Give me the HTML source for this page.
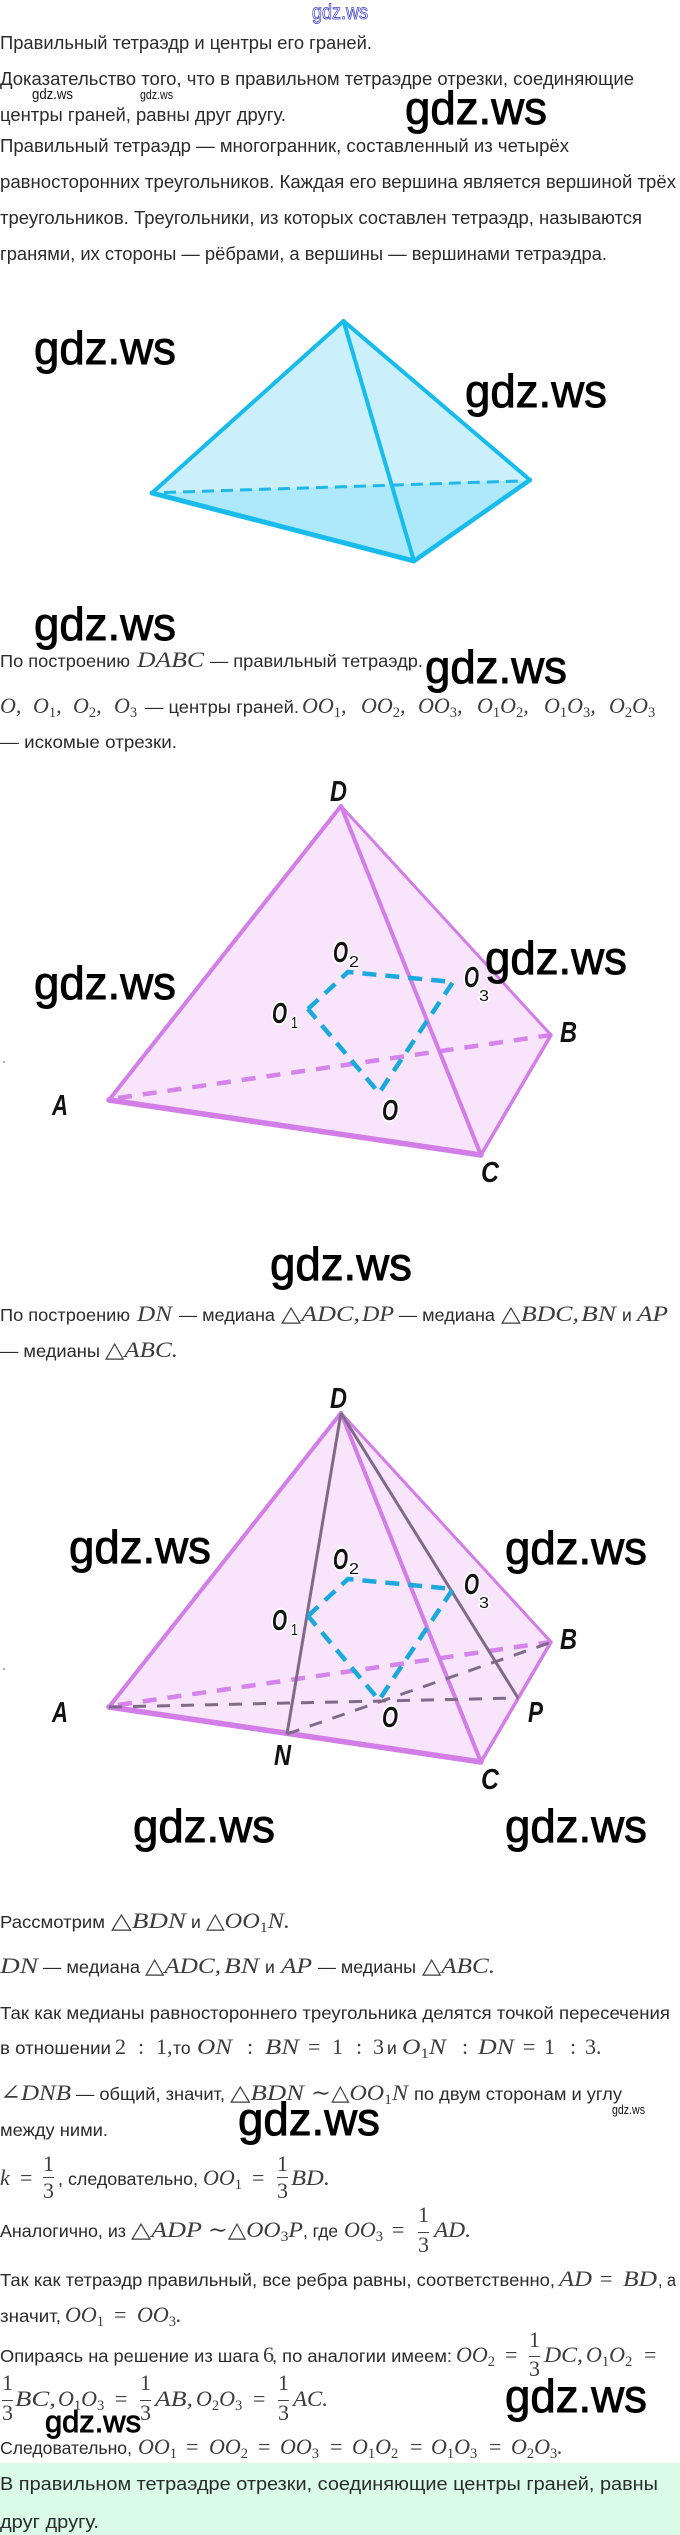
<!DOCTYPE html>
<html lang="ru">
<head>
<meta charset="utf-8">
<title>Правильный тетраэдр</title>
<style>
html,body{margin:0;padding:0;background:#fff}
svg{display:block}
text{font-family:"Liberation Sans","DejaVu Sans",sans-serif;white-space:pre}
.a{font-size:18px;fill:#2b2b2b}
.t{font-size:17.5px;fill:#2b2b2b}
.m{font-family:"Liberation Serif","DejaVu Serif",serif;font-style:italic;font-size:22px;fill:#3d3d3d}
.r{font-family:"Liberation Serif","DejaVu Serif",serif;font-size:22px;fill:#3d3d3d}
.b{font-size:14.5px;font-style:normal}
.w{font-size:46px;fill:#000;stroke:#000;stroke-width:.9}
.s{fill:#111}
.l{font-size:29px;font-style:italic;font-weight:bold;fill:#111;stroke:#fff;stroke-width:4px;paint-order:stroke;stroke-linejoin:round}
.n{font-size:16px;fill:#111;stroke:#fff;stroke-width:3px;paint-order:stroke;stroke-linejoin:round}
</style>
</head>
<body>
<svg xmlns="http://www.w3.org/2000/svg" width="680" height="2535" viewBox="0 0 680 2535">
<rect width="680" height="2535" fill="#fff"/>
<rect x="0" y="2463" width="680" height="72" fill="#d9fbe8"/>

<text x="312" y="19" font-size="21" fill="#fff" stroke="#3c3cd0" stroke-width=".8" textLength="56" lengthAdjust="spacingAndGlyphs">gdz.ws</text>

<text class="a" x="0" y="49" textLength="372" lengthAdjust="spacingAndGlyphs">Правильный тетраэдр и центры его граней.</text>
<text class="a" x="0" y="85" textLength="634" lengthAdjust="spacingAndGlyphs">Доказательство того, что в правильном тетраэдре отрезки, соединяющие</text>
<text class="a" x="0" y="121" textLength="286" lengthAdjust="spacingAndGlyphs">центры граней, равны друг другу.</text>
<text class="a" x="0" y="152" textLength="569" lengthAdjust="spacingAndGlyphs">Правильный тетраэдр — многогранник, составленный из четырёх</text>
<text class="a" x="0" y="188" textLength="676" lengthAdjust="spacingAndGlyphs">равносторонних треугольников. Каждая его вершина является вершиной трёх</text>
<text class="a" x="0" y="224" textLength="642" lengthAdjust="spacingAndGlyphs">треугольников. Треугольники, из которых составлен тетраэдр, называются</text>
<text class="a" x="0" y="260" textLength="607" lengthAdjust="spacingAndGlyphs">гранями, их стороны — рёбрами, а вершины — вершинами тетраэдра.</text>

<text class="s" x="32" y="99" font-size="15" textLength="41" lengthAdjust="spacingAndGlyphs">gdz.ws</text>
<text class="s" x="140" y="99" font-size="13" textLength="33" lengthAdjust="spacingAndGlyphs">gdz.ws</text>
<text class="w" x="405" y="124" textLength="142" lengthAdjust="spacingAndGlyphs">gdz.ws</text>

<!-- Figure 1 -->
<polygon points="343.5,321 152,493 414,561 530,480" fill="#ccf0fb"/>
<polygon points="152,493 530,480 414,561" fill="#aee9fb"/>
<line x1="164" y1="492.5" x2="520" y2="481" stroke="#1fb8e6" stroke-width="3" stroke-dasharray="12 7"/>
<g fill="none" stroke="#17bbec" stroke-linejoin="round" stroke-linecap="round">
<line x1="343.5" y1="321" x2="152" y2="493" stroke-width="4"/>
<line x1="343.5" y1="321" x2="530" y2="480" stroke-width="4"/>
<line x1="343.5" y1="321" x2="414" y2="561" stroke-width="4"/>
<line x1="152" y1="493" x2="414" y2="561" stroke-width="5"/>
<line x1="530" y1="480" x2="414" y2="561" stroke-width="4.5"/>
</g>

<text class="w" x="34" y="364" textLength="142" lengthAdjust="spacingAndGlyphs">gdz.ws</text>
<text class="w" x="465" y="407" textLength="142" lengthAdjust="spacingAndGlyphs">gdz.ws</text>
<text class="w" x="34" y="640" textLength="142" lengthAdjust="spacingAndGlyphs">gdz.ws</text>

<text class="t" x="0" y="667" textLength="130" lengthAdjust="spacingAndGlyphs">По построению</text>
<text class="m" x="137" y="667" textLength="67" lengthAdjust="spacingAndGlyphs">DABC</text>
<text class="t" x="210" y="667" textLength="213" lengthAdjust="spacingAndGlyphs">— правильный тетраэдр.</text>
<text class="w" x="425" y="683" textLength="142" lengthAdjust="spacingAndGlyphs">gdz.ws</text>

<text class="m" x="0" y="713">O,</text>
<text class="m" x="33" y="713">O<tspan class="b" dy="4">1</tspan><tspan dy="-4">,</tspan></text>
<text class="m" x="73" y="713">O<tspan class="b" dy="4">2</tspan><tspan dy="-4">,</tspan></text>
<text class="m" x="114" y="713">O<tspan class="b" dy="4">3</tspan></text>
<text class="t" x="145" y="713" textLength="154" lengthAdjust="spacingAndGlyphs">— центры граней.</text>
<text class="m" x="302" y="713">OO<tspan class="b" dy="4">1</tspan><tspan dy="-4">,</tspan></text>
<text class="m" x="361" y="713">OO<tspan class="b" dy="4">2</tspan><tspan dy="-4">,</tspan></text>
<text class="m" x="418" y="713">OO<tspan class="b" dy="4">3</tspan><tspan dy="-4">,</tspan></text>
<text class="m" x="477" y="713">O<tspan class="b" dy="4">1</tspan><tspan dy="-4">O</tspan><tspan class="b" dy="4">2</tspan><tspan dy="-4">,</tspan></text>
<text class="m" x="544" y="713">O<tspan class="b" dy="4">1</tspan><tspan dy="-4">O</tspan><tspan class="b" dy="4">3</tspan><tspan dy="-4">,</tspan></text>
<text class="m" x="609" y="713">O<tspan class="b" dy="4">2</tspan><tspan dy="-4">O</tspan><tspan class="b" dy="4">3</tspan></text>
<text class="t" x="0" y="748" textLength="177" lengthAdjust="spacingAndGlyphs">— искомые отрезки.</text>

<!-- Figure 2 -->
<polygon points="341,806 109,1100 481,1155 551,1035" fill="#f8e5fc"/>
<line x1="118" y1="1098" x2="551" y2="1035" stroke="#d484ea" stroke-width="4.5" stroke-dasharray="14 11"/>
<g fill="none" stroke="#d27de8" stroke-linecap="round">
<line x1="341" y1="806" x2="109" y2="1100" stroke-width="4"/>
<line x1="341" y1="806" x2="551" y2="1035" stroke-width="3"/>
<line x1="341" y1="806" x2="481" y2="1155" stroke-width="4"/>
<line x1="109" y1="1100" x2="481" y2="1155" stroke-width="5.5"/>
<line x1="551" y1="1035" x2="481" y2="1155" stroke-width="3.5"/>
</g>
<g fill="none" stroke="#1aa9dd" stroke-width="4.5">
<polyline points="308,1009 348,972 453,982 379,1093 308,1009" stroke-dasharray="14 9"/>
</g>
<text class="l" x="330" y="801" textLength="17" lengthAdjust="spacingAndGlyphs">D</text>
<text class="l" x="52" y="1115" textLength="16" lengthAdjust="spacingAndGlyphs">A</text>
<text class="l" x="560" y="1042" textLength="17" lengthAdjust="spacingAndGlyphs">B</text>
<text class="l" x="481" y="1182" textLength="18" lengthAdjust="spacingAndGlyphs">C</text>
<text class="l" x="382" y="1120" textLength="16" lengthAdjust="spacingAndGlyphs">O</text>
<text class="l" x="272" y="1023" textLength="15" lengthAdjust="spacingAndGlyphs">O</text><text class="n" x="291" y="1028" textLength="7" lengthAdjust="spacingAndGlyphs">1</text>
<text class="l" x="333" y="962" textLength="15" lengthAdjust="spacingAndGlyphs">O</text><text class="n" x="349" y="967" textLength="10" lengthAdjust="spacingAndGlyphs">2</text>
<text class="l" x="464" y="987" textLength="15" lengthAdjust="spacingAndGlyphs">O</text><text class="n" x="479" y="1001" textLength="10" lengthAdjust="spacingAndGlyphs">3</text>
<circle cx="4" cy="1062" r="1" fill="#999"/>

<text class="w" x="34" y="999" textLength="142" lengthAdjust="spacingAndGlyphs">gdz.ws</text>
<text class="w" x="485" y="974" textLength="142" lengthAdjust="spacingAndGlyphs">gdz.ws</text>
<text class="w" x="270" y="1280" textLength="142" lengthAdjust="spacingAndGlyphs">gdz.ws</text>

<text class="t" x="0" y="1321" textLength="130" lengthAdjust="spacingAndGlyphs">По построению</text>
<text class="m" x="137" y="1321" textLength="35" lengthAdjust="spacingAndGlyphs">DN</text>
<text class="t" x="179" y="1321" textLength="96" lengthAdjust="spacingAndGlyphs">— медиана</text>
<text class="m" x="281" y="1321" textLength="79" lengthAdjust="spacingAndGlyphs">△ADC,</text>
<text class="m" x="362" y="1321" textLength="32" lengthAdjust="spacingAndGlyphs">DP</text>
<text class="t" x="399" y="1321" textLength="96" lengthAdjust="spacingAndGlyphs">— медиана</text>
<text class="m" x="501" y="1321" textLength="78" lengthAdjust="spacingAndGlyphs">△BDC,</text>
<text class="m" x="581" y="1321" textLength="35" lengthAdjust="spacingAndGlyphs">BN</text>
<text class="t" x="622" y="1321">и</text>
<text class="m" x="637" y="1321" textLength="31" lengthAdjust="spacingAndGlyphs">AP</text>
<text class="t" x="0" y="1357" textLength="100" lengthAdjust="spacingAndGlyphs">— медианы</text>
<text class="m" x="105" y="1357" textLength="73" lengthAdjust="spacingAndGlyphs">△ABC.</text>

<!-- Figure 3 -->
<g transform="translate(0 607)">
<polygon points="341,806 109,1100 481,1155 551,1035" fill="#f8e5fc"/>
<line x1="118" y1="1098" x2="551" y2="1035" stroke="#d484ea" stroke-width="4.5" stroke-dasharray="14 11"/>
<g fill="none" stroke="#d27de8" stroke-linecap="round">
<line x1="341" y1="806" x2="109" y2="1100" stroke-width="4"/>
<line x1="341" y1="806" x2="551" y2="1035" stroke-width="3"/>
<line x1="341" y1="806" x2="481" y2="1155" stroke-width="4"/>
<line x1="109" y1="1100" x2="481" y2="1155" stroke-width="5.5"/>
<line x1="551" y1="1035" x2="481" y2="1155" stroke-width="3.5"/>
</g>
<g fill="none" stroke="#7f6b88" stroke-width="3">
<line x1="341" y1="806" x2="287" y2="1127"/>
<line x1="341" y1="806" x2="518" y2="1091"/>
<line x1="109" y1="1100" x2="518" y2="1091" stroke-dasharray="13 11"/>
<line x1="287" y1="1127" x2="552" y2="1035" stroke-dasharray="13 11"/>
</g>
<g fill="none" stroke="#1aa9dd" stroke-width="4.5">
<polyline points="308,1009 348,972 453,982 379,1093 308,1009" stroke-dasharray="14 9"/>
</g>
<text class="l" x="330" y="801" textLength="17" lengthAdjust="spacingAndGlyphs">D</text>
<text class="l" x="52" y="1115" textLength="16" lengthAdjust="spacingAndGlyphs">A</text>
<text class="l" x="560" y="1042" textLength="17" lengthAdjust="spacingAndGlyphs">B</text>
<text class="l" x="481" y="1182" textLength="18" lengthAdjust="spacingAndGlyphs">C</text>
<text class="l" x="382" y="1120" textLength="16" lengthAdjust="spacingAndGlyphs">O</text>
<text class="l" x="274" y="1158" textLength="17" lengthAdjust="spacingAndGlyphs">N</text>
<text class="l" x="528" y="1115" textLength="15" lengthAdjust="spacingAndGlyphs">P</text>
<text class="l" x="272" y="1023" textLength="15" lengthAdjust="spacingAndGlyphs">O</text><text class="n" x="291" y="1028" textLength="7" lengthAdjust="spacingAndGlyphs">1</text>
<text class="l" x="333" y="962" textLength="15" lengthAdjust="spacingAndGlyphs">O</text><text class="n" x="349" y="967" textLength="10" lengthAdjust="spacingAndGlyphs">2</text>
<text class="l" x="464" y="987" textLength="15" lengthAdjust="spacingAndGlyphs">O</text><text class="n" x="479" y="1001" textLength="10" lengthAdjust="spacingAndGlyphs">3</text>
<circle cx="4" cy="1062" r="1" fill="#999"/>
</g>

<text class="w" x="69" y="1563" textLength="142" lengthAdjust="spacingAndGlyphs">gdz.ws</text>
<text class="w" x="505" y="1564" textLength="142" lengthAdjust="spacingAndGlyphs">gdz.ws</text>
<text class="w" x="133" y="1842" textLength="142" lengthAdjust="spacingAndGlyphs">gdz.ws</text>
<text class="w" x="505" y="1842" textLength="142" lengthAdjust="spacingAndGlyphs">gdz.ws</text>

<text class="t" x="0" y="1928" textLength="105" lengthAdjust="spacingAndGlyphs">Рассмотрим</text>
<text class="m" x="111" y="1928" textLength="75" lengthAdjust="spacingAndGlyphs">△BDN</text>
<text class="t" x="191" y="1928">и</text>
<text class="m" x="206" y="1928" textLength="84" lengthAdjust="spacingAndGlyphs">△OO<tspan class="b" dy="4">1</tspan><tspan dy="-4">N.</tspan></text>

<text class="m" x="0" y="1973" textLength="38" lengthAdjust="spacingAndGlyphs">DN</text>
<text class="t" x="43" y="1973" textLength="97" lengthAdjust="spacingAndGlyphs">— медиана</text>
<text class="m" x="145" y="1973" textLength="76" lengthAdjust="spacingAndGlyphs">△ADC,</text>
<text class="m" x="224" y="1973" textLength="35" lengthAdjust="spacingAndGlyphs">BN</text>
<text class="t" x="265" y="1973">и</text>
<text class="m" x="281" y="1973" textLength="31" lengthAdjust="spacingAndGlyphs">AP</text>
<text class="t" x="318" y="1973" textLength="98" lengthAdjust="spacingAndGlyphs">— медианы</text>
<text class="m" x="422" y="1973" textLength="73" lengthAdjust="spacingAndGlyphs">△ABC.</text>

<text class="t" x="0" y="2019" textLength="670" lengthAdjust="spacingAndGlyphs">Так как медианы равностороннего треугольника делятся точкой пересечения</text>

<text class="t" x="0" y="2054" textLength="111" lengthAdjust="spacingAndGlyphs">в отношении</text>
<text class="r" x="115" y="2054">2</text><text class="r" x="138" y="2054">:</text><text class="r" x="156" y="2054">1,</text>
<text class="t" x="173" y="2054">то</text>
<text class="m" x="197" y="2054" textLength="35" lengthAdjust="spacingAndGlyphs">ON</text>
<text class="r" x="247" y="2054">:</text>
<text class="m" x="265" y="2054" textLength="34" lengthAdjust="spacingAndGlyphs">BN</text>
<text class="r" x="308" y="2054">=</text><text class="r" x="332" y="2054">1</text><text class="r" x="356" y="2054">:</text><text class="r" x="373" y="2054">3</text>
<text class="t" x="387" y="2054">и</text>
<text class="m" x="402" y="2054" textLength="44" lengthAdjust="spacingAndGlyphs">O<tspan class="b" dy="4">1</tspan><tspan dy="-4">N</tspan></text>
<text class="r" x="462" y="2054">:</text>
<text class="m" x="478" y="2054" textLength="36" lengthAdjust="spacingAndGlyphs">DN</text>
<text class="r" x="523" y="2054">=</text><text class="r" x="544" y="2054">1</text><text class="r" x="570" y="2054">:</text><text class="r" x="585" y="2054">3.</text>

<text class="m" x="0" y="2100" textLength="71" lengthAdjust="spacingAndGlyphs">∠DNB</text>
<text class="t" x="76" y="2100" textLength="149" lengthAdjust="spacingAndGlyphs">— общий, значит,</text>
<text class="m" x="230" y="2100" textLength="74" lengthAdjust="spacingAndGlyphs">△BDN</text>
<text class="m" x="311" y="2100" textLength="97" lengthAdjust="spacingAndGlyphs">∼△OO<tspan class="b" dy="4">1</tspan><tspan dy="-4">N</tspan></text>
<text class="t" x="414" y="2100" textLength="208" lengthAdjust="spacingAndGlyphs">по двум сторонам и углу</text>
<text class="s" x="612" y="2114" font-size="13" textLength="33" lengthAdjust="spacingAndGlyphs">gdz.ws</text>

<text class="t" x="0" y="2136" textLength="108" lengthAdjust="spacingAndGlyphs">между ними.</text>
<text class="w" x="238" y="2135" textLength="142" lengthAdjust="spacingAndGlyphs">gdz.ws</text>

<text class="m" x="0" y="2185">k</text><text class="r" x="20" y="2185">=</text>
<text class="r" x="43" y="2171">1</text><rect x="43" y="2177" width="11" height="1" fill="#444"/><text class="r" x="43" y="2198">3</text>
<text class="t" x="58" y="2185" textLength="140" lengthAdjust="spacingAndGlyphs">, следовательно,</text>
<text class="m" x="203" y="2185">OO<tspan class="b" dy="4">1</tspan></text>
<text class="r" x="252" y="2185">=</text>
<text class="r" x="277" y="2171">1</text><rect x="277" y="2177" width="11" height="1" fill="#444"/><text class="r" x="277" y="2198">3</text>
<text class="m" x="291" y="2185" textLength="39" lengthAdjust="spacingAndGlyphs">BD.</text>

<text class="t" x="0" y="2237" textLength="126" lengthAdjust="spacingAndGlyphs">Аналогично, из</text>
<text class="m" x="131" y="2237" textLength="71" lengthAdjust="spacingAndGlyphs">△ADP</text>
<text class="m" x="208" y="2237" textLength="95" lengthAdjust="spacingAndGlyphs">∼△OO<tspan class="b" dy="4">3</tspan><tspan dy="-4">P</tspan></text>
<text class="t" x="303" y="2237" textLength="35" lengthAdjust="spacingAndGlyphs">, где</text>
<text class="m" x="344" y="2237">OO<tspan class="b" dy="4">3</tspan></text>
<text class="r" x="392" y="2237">=</text>
<text class="r" x="418" y="2222">1</text><rect x="418" y="2232" width="11" height="1" fill="#444"/><text class="r" x="418" y="2252">3</text>
<text class="m" x="434" y="2237" textLength="37" lengthAdjust="spacingAndGlyphs">AD.</text>

<text class="t" x="0" y="2286" textLength="555" lengthAdjust="spacingAndGlyphs">Так как тетраэдр правильный, все ребра равны, соответственно,</text>
<text class="m" x="559" y="2286" textLength="33" lengthAdjust="spacingAndGlyphs">AD</text>
<text class="r" x="600" y="2286">=</text>
<text class="m" x="623" y="2286" textLength="34" lengthAdjust="spacingAndGlyphs">BD</text>
<text class="t" x="658" y="2286" textLength="18" lengthAdjust="spacingAndGlyphs">, а</text>

<text class="t" x="0" y="2322" textLength="61" lengthAdjust="spacingAndGlyphs">значит,</text>
<text class="m" x="65" y="2322">OO<tspan class="b" dy="4">1</tspan></text>
<text class="r" x="114" y="2322">=</text>
<text class="m" x="137" y="2322">OO<tspan class="b" dy="4">3</tspan><tspan dy="-4">.</tspan></text>

<text class="t" x="0" y="2362" textLength="259" lengthAdjust="spacingAndGlyphs">Опираясь на решение из шага</text>
<text class="r" x="263" y="2362">6</text>
<text class="t" x="272" y="2362" textLength="180" lengthAdjust="spacingAndGlyphs">, по аналогии имеем:</text>
<text class="m" x="456" y="2362">OO<tspan class="b" dy="4">2</tspan></text>
<text class="r" x="505" y="2362">=</text>
<text class="r" x="529" y="2347">1</text><rect x="529" y="2356" width="11" height="1" fill="#444"/><text class="r" x="529" y="2376">3</text>
<text class="m" x="544" y="2362" textLength="39" lengthAdjust="spacingAndGlyphs">DC,</text>
<text class="m" x="586" y="2362">O<tspan class="b" dy="4">1</tspan><tspan dy="-4">O</tspan><tspan class="b" dy="4">2</tspan></text>
<text class="r" x="644" y="2362">=</text>

<text class="r" x="2" y="2390">1</text><rect x="2" y="2400" width="11" height="1" fill="#444"/><text class="r" x="2" y="2420">3</text>
<text class="m" x="15" y="2406" textLength="41" lengthAdjust="spacingAndGlyphs">BC,</text>
<text class="m" x="58" y="2406">O<tspan class="b" dy="4">1</tspan><tspan dy="-4">O</tspan><tspan class="b" dy="4">3</tspan></text>
<text class="r" x="115" y="2406">=</text>
<text class="r" x="140" y="2390">1</text><rect x="140" y="2400" width="11" height="1" fill="#444"/><text class="r" x="140" y="2420">3</text>
<text class="m" x="155" y="2406" textLength="38" lengthAdjust="spacingAndGlyphs">AB,</text>
<text class="m" x="196" y="2406">O<tspan class="b" dy="4">2</tspan><tspan dy="-4">O</tspan><tspan class="b" dy="4">3</tspan></text>
<text class="r" x="253" y="2406">=</text>
<text class="r" x="278" y="2390">1</text><rect x="278" y="2400" width="11" height="1" fill="#444"/><text class="r" x="278" y="2420">3</text>
<text class="m" x="293" y="2406" textLength="35" lengthAdjust="spacingAndGlyphs">AC.</text>

<text class="w" x="505" y="2412" textLength="142" lengthAdjust="spacingAndGlyphs">gdz.ws</text>
<text class="w" x="45" y="2432" style="font-size:31px" textLength="96" lengthAdjust="spacingAndGlyphs">gdz.ws</text>

<text class="t" x="0" y="2454" textLength="132" lengthAdjust="spacingAndGlyphs">Следовательно,</text>
<text class="m" x="138" y="2454">OO<tspan class="b" dy="4">1</tspan></text>
<text class="r" x="186" y="2454">=</text>
<text class="m" x="209" y="2454">OO<tspan class="b" dy="4">2</tspan></text>
<text class="r" x="258" y="2454">=</text>
<text class="m" x="280" y="2454">OO<tspan class="b" dy="4">3</tspan></text>
<text class="r" x="330" y="2454">=</text>
<text class="m" x="352" y="2454">O<tspan class="b" dy="4">1</tspan><tspan dy="-4">O</tspan><tspan class="b" dy="4">2</tspan></text>
<text class="r" x="410" y="2454">=</text>
<text class="m" x="431" y="2454">O<tspan class="b" dy="4">1</tspan><tspan dy="-4">O</tspan><tspan class="b" dy="4">3</tspan></text>
<text class="r" x="489" y="2454">=</text>
<text class="m" x="511" y="2454">O<tspan class="b" dy="4">2</tspan><tspan dy="-4">O</tspan><tspan class="b" dy="4">3</tspan><tspan dy="-4">.</tspan></text>

<text class="a" x="0" y="2490" textLength="658" lengthAdjust="spacingAndGlyphs">В правильном тетраэдре отрезки, соединяющие центры граней, равны</text>
<text class="a" x="0" y="2528" textLength="99" lengthAdjust="spacingAndGlyphs">друг другу.</text>
</svg>
</body>
</html>
